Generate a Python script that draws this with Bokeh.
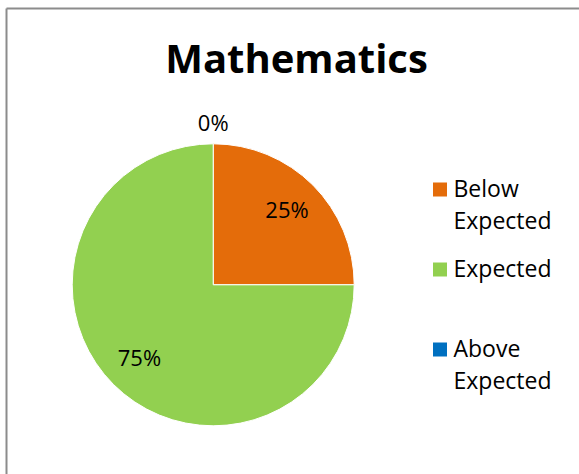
import math
from bokeh.plotting import figure
from bokeh.models import Range1d, ColumnDataSource
from bokeh.core.properties import value
from bokeh.embed import file_html
from bokeh.resources import INLINE

# ---- data ----
title = "Mathematics"
categories = ["Below Expected", "Expected", "Above Expected"]
values = [25, 75, 0]
colors = ["#E46C0A", "#92D050", "#0070C0"]

# ---- layout (pixels) ----
W, H = 579, 474
FONT = "Open Sans"
cx, cy, r = 212.7, H - 284.3, 141.0
TXT_DY = 2  # lift texts slightly

p = figure(width=W, height=H, x_range=Range1d(0, W), y_range=Range1d(0, H),
           output_backend="svg", toolbar_location=None, min_border=0,
           x_axis_location=None, y_axis_location=None)
p.grid.visible = False
p.outline_line_color = None
p.background_fill_color = "white"
p.border_fill_color = "white"

# chart border (left and top visible)
p.segment(x0=[6, 6], y0=[0, H - 8], x1=[6, W + 5], y1=[H - 8, H - 8],
          line_color="#8c8c8c", line_width=2)

# wedges
total = sum(values)
starts, ends, labels, lx, ly = [], [], [], [], []
cum = 0.0
for v in values:
    a0 = math.pi / 2 - 2 * math.pi * cum / total
    cum += v
    a1 = math.pi / 2 - 2 * math.pi * cum / total
    starts.append(a0)
    ends.append(a1)
    mid = (a0 + a1) / 2
    frac = 0.74 if v > 0 else 1.14
    lx.append(cx + frac * r * math.cos(mid))
    ly.append(cy + frac * r * math.sin(mid) + TXT_DY)
    labels.append(f"{round(100 * v / total)}%")

nz = [i for i, v in enumerate(values) if v > 0]
src = ColumnDataSource(dict(
    start=[starts[i] for i in nz], end=[ends[i] for i in nz],
    color=[colors[i] for i in nz]))
p.wedge(x=cx, y=cy, radius=r, start_angle="start", end_angle="end",
        direction="clock", fill_color="color", line_color="white",
        line_width=1, source=src)

# data labels
p.text(x=lx, y=ly, text=labels, text_font=value(FONT), text_font_size="22px",
       text_align="center", text_baseline="middle", text_color="black")

# title
p.text(x=[296], y=[H - 57], text=[title], text_font=value(FONT),
       text_font_size="40px", text_font_style="bold", text_align="center",
       text_baseline="middle", text_color="black")

# legend
leg_x, leg_y0, leg_step, line_h = 439.5, H - 189, 80, 32
sq_x, sq_y, tx, ty, tt = [], [], [], [], []
for i, name in enumerate(categories):
    yy = leg_y0 - i * leg_step
    sq_x.append(leg_x)
    sq_y.append(yy)
    for j, part in enumerate(name.split(" ")):
        tx.append(453)
        ty.append(yy - j * line_h + TXT_DY)
        tt.append(part)
p.rect(x=sq_x, y=sq_y, width=14, height=14, fill_color=colors, line_color=None)
p.text(x=tx, y=ty, text=tt, text_font=value(FONT), text_font_size="23px",
       text_align="left", text_baseline="middle", text_color="black")

open("out.html", "w").write(file_html(p, INLINE))
